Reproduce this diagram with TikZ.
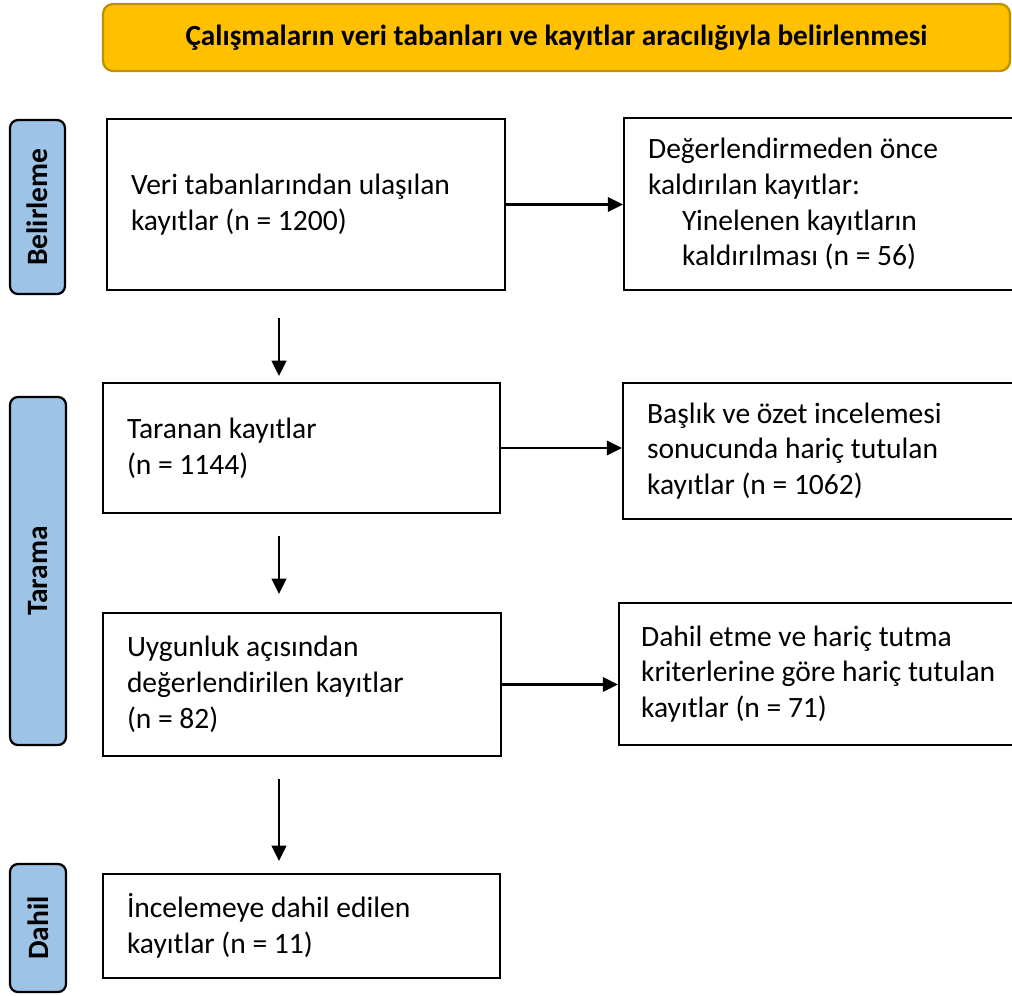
\documentclass[tikz,border=0pt]{standalone}
\usepackage{fontspec}
\setmainfont{Carlito}
\usetikzlibrary{arrows.meta}

\begin{document}
\begin{tikzpicture}[
    kayit/.style ={rectangle, draw, line width=1.6pt, align=flush left, inner xsep=0.6cm,
        font=\fontsize{21}{25.5}\selectfont},
    evre/.style ={rectangle, draw, line width=1.6pt, rounded corners=0.2cm, fill=evremavi,
        rotate=90, font=\fontsize{21}{22}\selectfont\bfseries},
    baslik/.style ={rectangle, draw=baslikkenar, line width=1.6pt, rounded corners=0.25cm,
        fill=baslikaltin, font=\fontsize{20.8}{22}\selectfont\bfseries},
    ok/.style ={line width=1.7pt, -{Triangle[length=0.38cm, width=0.36cm]}}]
   \definecolor{evremavi}{HTML}{9DC3E6}
   \definecolor{baslikaltin}{HTML}{FFC000}
   \definecolor{baslikkenar}{HTML}{BF9000}
   \useasboundingbox (0,0) rectangle (25.3,-24.9);

   \node[baslik, minimum width=22.675cm, minimum height=1.675cm] (T) at (13.9125,-0.9375)
      {Çalışmaların veri tabanları ve kayıtlar aracılığıyla belirlenmesi};

   \node[evre, minimum width=4.35cm, minimum height=1.375cm] (E1) at (0.9375,-5.175) {Belirleme};
   \node[evre, minimum width=8.7cm, minimum height=1.4cm] (E2) at (0.95,-14.275) {Tarama};
   \node[evre, minimum width=3.2cm, minimum height=1.4cm] (E3) at (0.95,-23.2) {Dahil};

   \node[kayit, text width=8.75cm, minimum height=4.275cm] (B1) at (7.65,-5.1125)
      {Veri tabanlarından ulaşılan\\kayıtlar (n = 1200)};
   \node[kayit, anchor=west, text width=9.5cm, minimum height=4.3cm] (R1) at (15.575,-5.1)
      {Değerlendirmeden önce\\kaldırılan kayıtlar:\\\hspace*{0.85cm}Yinelenen kayıtların\\\hspace*{0.85cm}kaldırılması (n = 56)};
   \node[kayit, text width=8.725cm, minimum height=3.25cm] (B2) at (7.5375,-11.2)
      {Taranan kayıtlar\\(n = 1144)};
   \node[kayit, anchor=west, text width=9.5cm, minimum height=3.4cm] (R2) at (15.55,-11.275)
      {Başlık ve özet incelemesi\\sonucunda hariç tutulan\\kayıtlar (n = 1062)};
   \node[kayit, text width=8.75cm, minimum height=3.575cm] (B3) at (7.55,-17.1125)
      {Uygunluk açısından\\değerlendirilen kayıtlar\\(n = 82)};
   \node[kayit, anchor=west, text width=9.5cm, minimum height=3.55cm, inner xsep=0.55cm] (R3) at (15.45,-16.85)
      {Dahil etme ve hariç tutma\\kriterlerine göre hariç tutulan\\kayıtlar (n = 71)};
   \node[kayit, text width=8.725cm, minimum height=2.6cm] (B4) at (7.5375,-23.15)
      {İncelemeye dahil edilen\\kayıtlar (n = 11)};

   \coordinate (ax) at (6.975,0);

   \draw[ok] (B1.east) to (B1.east -| R1.west);
   \draw[ok] (B2.east) to (B2.east -| R2.west);
   \draw[ok] (B3.east) to (B3.east -| R3.west);
   \draw[ok] ([yshift=-0.675cm]B1.south -| ax) to ([yshift=0.15cm]B2.north -| ax);
   \draw[ok] ([yshift=-0.55cm]B2.south -| ax) to ([yshift=0.45cm]B3.north -| ax);
   \draw[ok] ([yshift=-0.55cm]B3.south -| ax) to ([yshift=0.3cm]B4.north -| ax);
 \end{tikzpicture}
\end{document}
